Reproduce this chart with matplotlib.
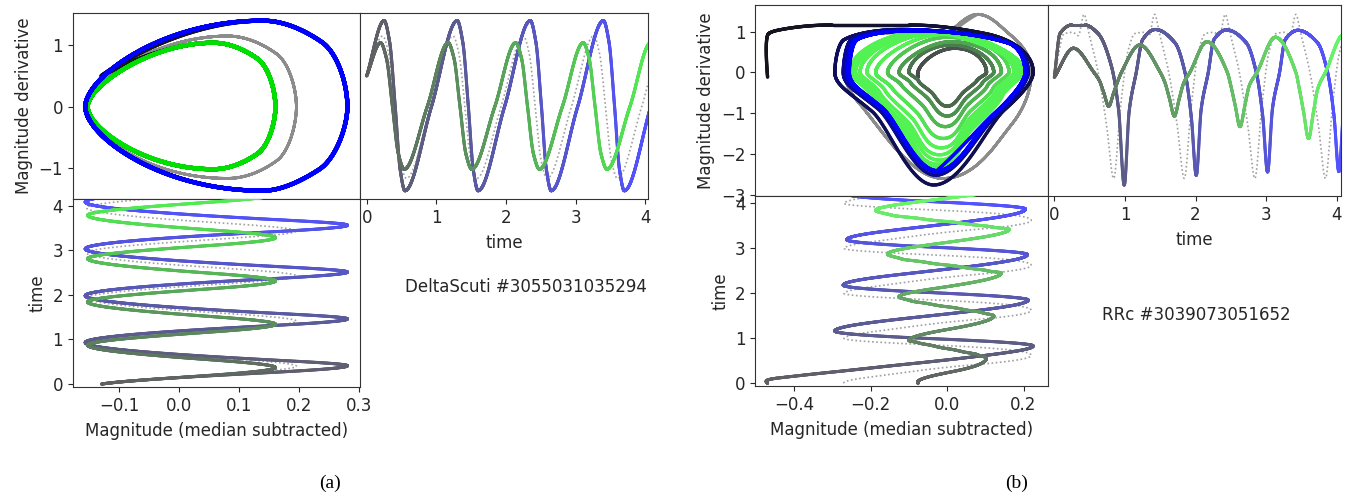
import numpy as np
import matplotlib
matplotlib.use("Agg")
import matplotlib.pyplot as plt
from matplotlib.collections import LineCollection
from matplotlib.colors import to_rgb

# ---------------- data (keypoints) ----------------
# Panel (a) DeltaScuti: blue model, green model, grey data
A_BLUE_VT = [0, 0.25, 0.33, 0.41, 0.48, 0.55, 0.93,
             1.3, 1.38, 1.46, 1.53, 1.6, 1.98,
             2.35, 2.43, 2.51, 2.58, 2.65, 3.03,
             3.4, 3.48, 3.56, 3.63, 3.7, 4.08,
             4.45, 4.53, 4.61, 4.68, 4.75, 5.13,
             5.5, 5.58, 5.66, 5.73, 5.8, 6.18]
A_BLUE_V = [0.5, 1.4, 1.05, 0, -1.02, -1.37, 0,
            1.4, 1.05, 0, -1.02, -1.37, 0,
            1.4, 1.05, 0, -1.02, -1.37, 0,
            1.4, 1.05, 0, -1.02, -1.37, 0,
            1.4, 1.05, 0, -1.02, -1.37, 0,
            1.4, 1.05, 0, -1.02, -1.37, 0]
A_BLUE_XT = [0, 0.25, 0.41, 0.55, 0.93, 1.3, 1.46, 1.6, 1.98, 2.35, 2.51, 2.65, 3.03, 3.4, 3.56, 3.7,
             4.08, 4.45, 4.61, 4.75, 5.13, 5.5, 5.66, 5.8, 6.18]
A_BLUE_X = [-0.13, 0.139, 0.28, 0.139, -0.157, 0.139, 0.28, 0.139, -0.157, 0.139, 0.28, 0.139, -0.157,
            0.139, 0.28, 0.139, -0.157, 0.139, 0.28, 0.139, -0.157, 0.139, 0.28, 0.139, -0.157]

A_GREEN_VT = [0, 0.2, 0.285, 0.37, 0.455, 0.54, 0.87,
              1.17, 1.255, 1.34, 1.425, 1.51, 1.84,
              2.14, 2.225, 2.31, 2.395, 2.48, 2.81,
              3.11, 3.195, 3.28, 3.365, 3.45, 3.78,
              4.08, 4.165, 4.25, 4.335, 4.42, 4.75,
              5.05, 5.135, 5.22, 5.305, 5.39, 5.72]
A_GREEN_V = [0.5, 1.04, 0.78, 0, -0.77, -1.02, 0,
             1.04, 0.78, 0, -0.77, -1.02, 0,
             1.04, 0.78, 0, -0.77, -1.02, 0,
             1.04, 0.78, 0, -0.77, -1.02, 0,
             1.04, 0.78, 0, -0.77, -1.02, 0,
             1.04, 0.78, 0, -0.77, -1.02, 0]
A_GREEN_XT = [0, 0.2, 0.37, 0.54, 0.87, 1.17, 1.34, 1.51, 1.84, 2.14, 2.31, 2.48, 2.81, 3.11, 3.28, 3.45,
              3.78, 4.08, 4.25, 4.42, 4.75, 5.05, 5.22, 5.39, 5.72]
A_GREEN_X = [-0.13, 0.056, 0.16, 0.056, -0.153, 0.056, 0.16, 0.056, -0.153, 0.056, 0.16, 0.056, -0.153,
             0.056, 0.16, 0.056, -0.153, 0.056, 0.16, 0.056, -0.153, 0.056, 0.16, 0.056, -0.153]

A_GREY_VT = [0, 0.23, 0.315, 0.4, 0.485, 0.57, 0.92,
             1.24, 1.325, 1.41, 1.495, 1.58, 1.93,
             2.25, 2.335, 2.42, 2.505, 2.59, 2.94,
             3.26, 3.345, 3.43, 3.515, 3.6, 3.95,
             4.27, 4.355, 4.44]
A_GREY_V = [0.5, 1.15, 0.86, 0, -0.88, -1.17, 0,
            1.15, 0.86, 0, -0.88, -1.17, 0,
            1.15, 0.86, 0, -0.88, -1.17, 0,
            1.15, 0.86, 0, -0.88, -1.17, 0,
            1.15, 0.86, 0]
A_GREY_XT = [0, 0.23, 0.4, 0.57, 0.92, 1.24, 1.41, 1.58, 1.93, 2.25, 2.42, 2.59, 2.94, 3.26, 3.43, 3.6,
             3.95, 4.27, 4.44]
A_GREY_X = [-0.13, 0.08, 0.195, 0.08, -0.155, 0.08, 0.195, 0.08, -0.155, 0.08, 0.195, 0.08, -0.155,
            0.08, 0.195, 0.08, -0.155, 0.08, 0.195]

# Panel (b) RRc
B_BLUE_VT = [0, 0.08, 0.25, 0.43, 0.62, 0.81, 0.91, 0.99,
             1.06, 1.16, 1.25, 1.43, 1.71, 1.85, 1.94, 2.01,
             2.08, 2.18, 2.26, 2.44, 2.72, 2.86, 2.95, 3.02,
             3.09, 3.19, 3.27, 3.45, 3.73, 3.87, 3.96, 4.03,
             4.10, 4.20, 4.28, 4.46, 4.74, 4.88, 4.97, 5.04,
             5.11, 5.21, 5.29, 5.47, 5.75, 5.89, 5.98, 6.05,
             6.12, 6.22, 6.30, 6.48, 6.76, 6.90, 6.99, 7.06,
             7.13, 7.23, 7.31, 7.49, 7.77, 7.91, 8.00, 8.07]
B_BLUE_V = [-0.12, 0.95, 1.16, 1.16, 0.95, 0.14, -0.92, -2.76,
            -0.95, 0.0, 0.8, 1.05, 0.72, 0.0, -1.1, -2.52,
            -0.9, 0.0, 0.8, 1.04, 0.72, 0.0, -1.05, -2.44,
            -0.88, 0.0, 0.8, 1.03, 0.72, 0.0, -1.05, -2.43,
            -0.88, 0.0, 0.8, 1.03, 0.72, 0.0, -1.04, -2.42,
            -0.87, 0.0, 0.8, 1.02, 0.72, 0.0, -1.04, -2.41,
            -0.87, 0.0, 0.8, 1.02, 0.72, 0.0, -1.03, -2.41,
            -0.87, 0.0, 0.8, 1.02, 0.72, 0.0, -1.03, -2.40]
B_BLUE_XT = [0, 0.12, 0.25, 0.43, 0.62, 0.83, 0.99, 1.16, 1.43, 1.85, 2.01, 2.18, 2.44, 2.86, 3.02, 3.19,
             3.45, 3.87, 4.03, 4.20, 4.46, 4.88, 5.04, 5.21, 5.47, 5.89, 6.05, 6.22, 6.48, 6.90, 7.06,
             7.23, 7.49, 7.91, 8.07]
B_BLUE_X = [-0.47, -0.44, -0.3, -0.1, 0.1, 0.225, -0.035, -0.294, -0.12, 0.212, -0.03, -0.272, -0.1,
            0.21, -0.027, -0.263, -0.09, 0.205, -0.027, -0.26, -0.09, 0.205, -0.027, -0.258, -0.09,
            0.204, -0.026, -0.257, -0.09, 0.204, -0.026, -0.256, -0.09, 0.204, -0.026]

B_GREEN_VT = [0,
              0.27, 0.56, 0.64, 0.70, 0.77, 0.84, 0.90, 0.95,
              1.21, 1.50, 1.57, 1.63, 1.70, 1.77, 1.83, 1.92,
              2.16, 2.45, 2.50, 2.56, 2.63, 2.70, 2.76, 2.87,
              3.13, 3.42, 3.47, 3.53, 3.60, 3.67, 3.73, 3.84,
              4.10, 4.38, 4.44, 4.50, 4.57, 4.64, 4.70, 4.77,
              5.05, 5.33, 5.39, 5.45, 5.52, 5.59, 5.65, 5.72,
              6.00, 6.28, 6.34, 6.40, 6.47, 6.54, 6.60, 6.67,
              6.95, 7.23, 7.29, 7.35, 7.42, 7.49, 7.55, 7.62,
              7.90, 8.18, 8.24, 8.30, 8.37, 8.44, 8.50, 8.57,
              8.85, 9.13, 9.19, 9.25, 9.32, 9.39, 9.45, 9.52,
              9.80, 10.08]
B_GREEN_V = [-0.12,
             0.59, 0, -0.21, -0.50, -0.83, -0.50, -0.21, 0,
             0.67, 0, -0.27, -0.64, -1.07, -0.64, -0.27, 0,
             0.75, 0, -0.33, -0.80, -1.33, -0.80, -0.33, 0,
             0.86, 0, -0.405, -0.97, -1.62, -0.97, -0.405, 0,
             0.93, 0, -0.46, -1.11, -1.85, -1.11, -0.46, 0,
             0.97, 0, -0.505, -1.21, -2.02, -1.21, -0.505, 0,
             1.00, 0, -0.54, -1.29, -2.15, -1.29, -0.54, 0,
             1.00, 0, -0.56, -1.35, -2.25, -1.35, -0.56, 0,
             1.00, 0, -0.58, -1.39, -2.31, -1.39, -0.58, 0,
             1.00, 0, -0.59, -1.41, -2.35, -1.41, -0.59, 0,
             1.00, 0]
B_GREEN_XT = B_GREEN_VT
B_GREEN_X = [-0.076,
             0.02, 0.103, 0.0773, 0.0412, 0.0, -0.04, -0.075, -0.1,
             0.01, 0.122, 0.0915, 0.0488, 0.0, -0.0504, -0.0945, -0.126,
             0.01, 0.142, 0.1053, 0.0538, -0.005, -0.0654, -0.1183, -0.156,
             0.0, 0.162, 0.119, 0.0588, -0.01, -0.0808, -0.1428, -0.187,
             -0.01, 0.175, 0.1275, 0.061, -0.015, -0.093, -0.1613, -0.21,
             -0.02, 0.185, 0.1338, 0.062, -0.02, -0.1032, -0.176, -0.228,
             -0.03, 0.192, 0.139, 0.0648, -0.02, -0.108, -0.185, -0.24,
             -0.04, 0.197, 0.1415, 0.0638, -0.025, -0.1142, -0.1923, -0.248,
             -0.05, 0.2, 0.1438, 0.065, -0.025, -0.1158, -0.1953, -0.252,
             -0.05, 0.2, 0.1433, 0.0638, -0.027, -0.1182, -0.198, -0.255,
             -0.06, 0.2]

B_GREY_VT = [0, 0.14, 0.26, 0.34, 0.42, 0.49, 0.62, 0.74, 0.84,
             0.94, 1.04, 1.14, 1.26, 1.34, 1.42, 1.49, 1.62, 1.74, 1.84,
             1.94, 2.04, 2.14, 2.26, 2.34, 2.42, 2.49, 2.62, 2.74, 2.84,
             2.94, 3.04, 3.14, 3.26, 3.34, 3.42, 3.49, 3.62, 3.74, 3.84,
             3.94, 4.04, 4.14, 4.26, 4.34, 4.42]
B_GREY_V = [-0.1, 0.95, 0.98, 0.9, 1.42, 0.95, 0.0, -1.3, -2.6,
            -0.8, 0.5, 0.95, 0.98, 0.9, 1.42, 0.95, 0.0, -1.3, -2.6,
            -0.8, 0.5, 0.95, 0.98, 0.9, 1.42, 0.95, 0.0, -1.3, -2.6,
            -0.8, 0.5, 0.95, 0.98, 0.9, 1.42, 0.95, 0.0, -1.3, -2.6,
            -0.8, 0.5, 0.95, 0.98, 0.9, 1.42]
B_GREY_XT = [0, 0.14, 0.42, 0.62, 0.84, 1.0, 1.14, 1.42, 1.62, 1.84, 2.0, 2.14, 2.42, 2.62, 2.84, 3.0,
             3.14, 3.42, 3.62, 3.84, 4.0, 4.14, 4.42]
B_GREY_X = [-0.27, -0.2, 0.08, 0.22, -0.01, -0.27, -0.2, 0.08, 0.22, -0.01, -0.27, -0.2, 0.08, 0.22,
            -0.01, -0.27, -0.2, 0.08, 0.22, -0.01, -0.27, -0.2, 0.08]

LABEL_A = "DeltaScuti #3055031035294"
LABEL_B = "RRc #3039073051652"
TIME_TICKS = [0, 1, 2, 3, 4]
A_MAG_TICKS = [-0.1, 0.0, 0.1, 0.2, 0.3]
B_MAG_TICKS = [-0.4, -0.2, 0.0, 0.2]
A_DER_TICKS = [-1, 0, 1]
B_DER_TICKS = [-3, -2, -1, 0, 1]


# ---------------- helpers ----------------
def hermite(xk, yk, mk, xq):
    xk = np.asarray(xk, float)
    yk = np.asarray(yk, float)
    mk = np.asarray(mk, float)
    h = np.diff(xk)
    n = len(xk)
    idx = np.clip(np.searchsorted(xk, xq) - 1, 0, n - 2)
    hh = h[idx]
    s = (xq - xk[idx]) / hh
    h00 = 2 * s**3 - 3 * s**2 + 1
    h10 = s**3 - 2 * s**2 + s
    h01 = -2 * s**3 + 3 * s**2
    h11 = s**3 - s**2
    return h00 * yk[idx] + h10 * hh * mk[idx] + h01 * yk[idx + 1] + h11 * hh * mk[idx + 1]


def pchip_slopes(xk, yk):
    xk = np.asarray(xk, float)
    yk = np.asarray(yk, float)
    h = np.diff(xk)
    d = np.diff(yk) / h
    n = len(xk)
    m = np.zeros(n)
    for k in range(1, n - 1):
        if d[k - 1] * d[k] > 0:
            w1 = 2 * h[k] + h[k - 1]
            w2 = h[k] + 2 * h[k - 1]
            m[k] = (w1 + w2) / (w1 / d[k - 1] + w2 / d[k])
    m[0] = d[0]
    m[-1] = d[-1]
    return m


def series(vt, v, xt, x):
    """Derivative curve through its keypoints; magnitude curve through its keypoints with
    the derivative curve giving its slope at each keypoint."""
    tmax = min(vt[-1], xt[-1])
    t = np.linspace(0, tmax, int(tmax * 900))
    mv = pchip_slopes(vt, v)
    vv = hermite(vt, v, mv, t)
    mx = hermite(vt, v, mv, np.asarray(xt, float))
    xx = hermite(xt, x, mx, t)
    return t, xx, vv


def grad_line(ax, xs, ys, t, c_end, alpha, lw, T=4.0, zorder=2, c_start=(0.08, 0.08, 0.1)):
    pts = np.column_stack([xs, ys]).reshape(-1, 1, 2)
    segs = np.concatenate([pts[:-1], pts[1:]], axis=1)
    f = np.clip(t[:-1] / T, 0, 1)[:, None]
    c0 = np.array(c_start)
    c1 = np.array(to_rgb(c_end))
    cols = c0 * (1 - f) + c1 * f
    cols = cols * alpha + (1 - alpha)  # pre-blend with white
    lc = LineCollection(segs, colors=cols, linewidths=lw, capstyle="round",
                        joinstyle="round", zorder=zorder)
    ax.add_collection(lc)


plt.rcParams["font.family"] = ["DejaVu Sans"]
plt.rcParams["font.size"] = 12
plt.rcParams["text.color"] = "#262626"
plt.rcParams["axes.labelcolor"] = "#262626"
plt.rcParams["xtick.color"] = "#262626"
plt.rcParams["ytick.color"] = "#262626"
plt.rcParams["axes.edgecolor"] = "#333333"

W, H = 1364, 498
fig = plt.figure(figsize=(W / 100, H / 100), dpi=100)


def fax(l, t, r, b):
    return fig.add_axes([l / W, 1 - b / H, (r - l) / W, (b - t) / H])


def make_panel(box, xlim, ylim, tlim, mag_ticks, der_ticks, data, green_end, phase_green_alpha,
               phase_lw):
    (l, t, m, r, mid, b) = box
    ax_ph = fax(l, t, m, mid)
    ax_ts = fax(m, t, r, mid)
    ax_bl = fax(l, mid, m, b)
    blue, green, grey = data
    # phase portrait
    ax_ph.plot(grey[1], grey[2], color="#8c8c8c", lw=2.0, zorder=1)
    grad_line(ax_ph, green[1], green[2], green[0], green_end, phase_green_alpha, phase_lw, zorder=2)
    grad_line(ax_ph, blue[1], blue[2], blue[0], "#0000ff", 1.0, phase_lw, zorder=3)
    ax_ph.set_xlim(xlim)
    ax_ph.set_ylim(ylim)
    ax_ph.set_yticks(der_ticks)
    ax_ph.tick_params(bottom=False, labelbottom=False)
    ax_ph.set_ylabel("Magnitude derivative")
    # time series of derivative
    ax_ts.plot(grey[0], grey[2], ls=(0, (1, 1.5)), color="#a0a0a0", lw=1.2, zorder=1)
    grad_line(ax_ts, blue[0], blue[2], blue[0], "#0000ff", 0.68, 2.2, zorder=2)
    grad_line(ax_ts, green[0], green[2], green[0], green_end, 0.68, 2.2, zorder=3)
    ax_ts.set_xlim(tlim)
    ax_ts.set_ylim(ylim)
    ax_ts.set_xticks(TIME_TICKS)
    ax_ts.tick_params(left=False, labelleft=False)
    ax_ts.set_xlabel("time", labelpad=5)
    # magnitude vs time
    ax_bl.plot(grey[1], grey[0], ls=(0, (1, 1.5)), color="#a0a0a0", lw=1.2, zorder=1)
    grad_line(ax_bl, blue[1], blue[0], blue[0], "#0000ff", 0.68, 2.2, zorder=2)
    grad_line(ax_bl, green[1], green[0], green[0], green_end, 0.68, 2.2, zorder=3)
    ax_bl.set_xlim(xlim)
    ax_bl.set_ylim(tlim[0] + 0.03, tlim[1] + 0.1)
    ax_bl.set_xticks(mag_ticks)
    ax_bl.set_yticks(TIME_TICKS)
    ax_bl.set_xlabel("Magnitude (median subtracted)", labelpad=5)
    ax_bl.set_ylabel("time")
    return ax_ph, ax_ts, ax_bl


a_blue = series(A_BLUE_VT, A_BLUE_V, A_BLUE_XT, A_BLUE_X)
a_green = series(A_GREEN_VT, A_GREEN_V, A_GREEN_XT, A_GREEN_X)
a_grey = series(A_GREY_VT, A_GREY_V, A_GREY_XT, A_GREY_X)
b_blue = series(B_BLUE_VT, B_BLUE_V, B_BLUE_XT, B_BLUE_X)
b_green = series(B_GREEN_VT, B_GREEN_V, B_GREEN_XT, B_GREEN_X)
b_grey = series(B_GREY_VT, B_GREY_V, B_GREY_XT, B_GREY_X)

make_panel((72.7, 12.7, 360, 648, 199.3, 387), (-0.178, 0.301), (-1.51, 1.53), (-0.096, 4.04),
           A_MAG_TICKS, A_DER_TICKS, (a_blue, a_green, a_grey), "#00e000", 1.0, 3.0)
make_panel((755, 5, 1048, 1341, 196, 386), (-0.503, 0.264), (-3.03, 1.65), (-0.09, 4.06),
           B_MAG_TICKS, B_DER_TICKS, (b_blue, b_green, b_grey), "#22ee22", 0.78, 2.4)

fig.text(526 / W, 1 - 287 / H, LABEL_A, ha="center", va="center", fontsize=12)
fig.text(1196 / W, 1 - 315 / H, LABEL_B, ha="center", va="center", fontsize=12)
fig.text(330 / W, 1 - 483 / H, "(a)", ha="center", va="center", fontsize=14,
         family=["Liberation Serif", "DejaVu Serif"], color="black")
fig.text(1016.7 / W, 1 - 483 / H, "(b)", ha="center", va="center", fontsize=14,
         family=["Liberation Serif", "DejaVu Serif"], color="black")

fig.savefig("out.png", dpi=100)
